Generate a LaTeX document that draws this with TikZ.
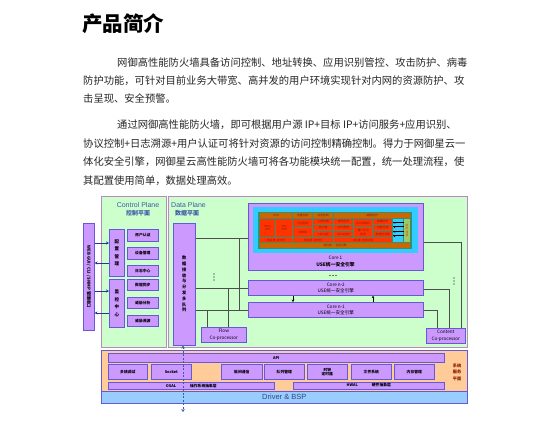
\documentclass[tikz,border=0pt]{standalone}
\usepackage{fontspec}
\setmainfont{Liberation Sans}
\newfontfamily\cjk{Noto Sans CJK SC}
\usetikzlibrary{arrows.meta}
\definecolor{lgreen}{HTML}{CCFFCC}
\definecolor{lav}{HTML}{CC99FF}
\definecolor{lavb}{HTML}{6659D9}
\definecolor{planeb}{HTML}{B98AC0}
\definecolor{cyanc}{HTML}{33CCFF}
\definecolor{orc}{HTML}{CC6600}
\definecolor{redc}{HTML}{FF3300}
\definecolor{tealc}{HTML}{3A8F6A}
\definecolor{gbox}{HTML}{99CC66}
\definecolor{peach}{HTML}{FFCC99}
\definecolor{bsp}{HTML}{99CCFF}
\definecolor{dblue}{HTML}{1F3A8F}
\definecolor{txt}{HTML}{262626}
\definecolor{plbl}{HTML}{3C5AA8}
\definecolor{dred}{HTML}{8B1A00}
\definecolor{lgray}{HTML}{4D4D4D}
\newcommand\bx[7]{%
  \pgfmathsetmacro\bxw{#4-#2}\pgfmathsetmacro\bxh{#5-#3}%
  \node[#6, minimum width=\bxw pt, minimum height=\bxh pt, inner sep=0pt, anchor=north west, align=center] (#1) at (#2,#3) {#7};}
\tikzset{
  plane/.style={draw=planeb, fill=lgreen, line width=0.8pt},
  pbox/.style={draw=lavb, fill=lav, line width=0.6pt},
  tiny/.style={font=\cjk\bfseries\fontsize{3.8}{4.4}\selectfont, text=black},
  sm/.style={font=\cjk\fontsize{4.6}{6.4}\selectfont, text=black},
  vt/.style={font=\cjk\bfseries\fontsize{4.5}{7.5}\selectfont, text=black},
  vtb/.style={font=\cjk\bfseries\fontsize{4.2}{5.8}\selectfont, text=black},
  cell/.style={draw=none, fill=#1, font=\cjk\fontsize{2.8}{3.4}\selectfont, text=dred},
  conn/.style={draw=lgray, line width=0.7pt},
  para/.style={anchor=west, font=\cjk\fontsize{10.3}{12}\selectfont, text=txt, inner sep=0pt},
  arr/.style={draw=dblue, line width=1pt, -{Stealth[length=3pt,width=3pt]}},
  sarr/.style={draw=black, line width=0.4pt, -{Stealth[length=1.5pt,width=1.5pt]}},
  dot/.style={circle, fill=black, inner sep=0pt, minimum size=1.3pt},
}
\begin{document}
\begin{tikzpicture}[x=1pt,y=-1pt]
\useasboundingbox[fill=white] (0,0) rectangle (554,421);
% ---------- text ----------
\node[anchor=west, inner sep=0pt, font=\cjk\bfseries\fontsize{20.5}{24}\selectfont, text=black] (title) at (82,24) {产品简介};
\node[para] (p1a) at (117,63) {网御高性能防火墙具备访问控制、地址转换、应用识别管控、攻击防护、病毒};
\node[para] (p1b) at (83,81) {防护功能，可针对目前业务大带宽、高并发的用户环境实现针对内网的资源防护、攻};
\node[para] (p1c) at (83,99) {击呈现、安全预警。};
\node[para] (p2a) at (117,125) {通过网御高性能防火墙，即可根据用户源 IP+目标 IP+访问服务+应用识别、};
\node[para] (p2b) at (83,143.5) {协议控制+日志溯源+用户认证可将针对资源的访问控制精确控制。得力于网御星云一};
\node[para] (p2c) at (83,162) {体化安全引擎，网御星云高性能防火墙可将各功能模块统一配置，统一处理流程，使};
\node[para] (p2d) at (83,180.5) {其配置使用简单，数据处理高效。};
% ---------- planes ----------
\bx{cp}{101}{196}{166}{347}{plane}{}
\bx{dp}{168}{196}{467}{347}{plane}{}
\node[font=\fontsize{7}{8}\selectfont, text=plbl, inner sep=0pt] (cpl) at (138,205) {Control Plane};
\node[font=\cjk\bfseries\fontsize{6}{7}\selectfont, text=plbl, inner sep=0pt] (cpl2) at (138,213.5) {控制平面};
\node[anchor=west, font=\fontsize{7}{8}\selectfont, text=plbl, inner sep=0pt] (dpl) at (171,205) {Data Plane};
\node[anchor=west, font=\cjk\bfseries\fontsize{6}{7}\selectfont, text=plbl, inner sep=0pt] (dpl2) at (175,213.5) {数据平面};
% ---------- control plane ----------
\bx{mgmt}{83}{223}{94}{330}{pbox, font=\cjk\bfseries\fontsize{4.2}{5}\selectfont}{\rotatebox{-90}{WEB GUI / CLI / SNMP 管理接口}}
\bx{cfg}{109}{229}{124}{276}{pbox,vt}{配\\置\\管\\理}
\bx{mon}{109}{279}{124}{327}{pbox,vt}{监\\控\\中\\心}
\bx{c1}{127}{229}{158}{241}{pbox,tiny}{用户认证}
\bx{c2}{127}{247}{158}{259}{pbox,tiny}{设备管理}
\bx{c3}{127}{265}{158}{276}{pbox,tiny}{日志中心}
\bx{c4}{127}{279}{158}{290}{pbox,tiny}{数据同步}
\bx{c5}{127}{297}{158}{308}{pbox,tiny}{威胁分析}
\bx{c6}{127}{315}{158}{326}{pbox,tiny}{威胁溯源}
\coordinate (ya) at (0,243);
\coordinate (yb) at (0,263);
\coordinate (yc) at (0,291);
\coordinate (yd) at (0,313);
\draw[arr] (mgmt.east |- ya) -- (cfg.west |- ya);
\draw[arr] (cfg.west |- yb) -- (mgmt.east |- yb);
\draw[arr] (mgmt.east |- yc) -- (mon.west |- yc);
\draw[arr] (mon.west |- yd) -- (mgmt.east |- yd);
% ---------- data plane ----------
\bx{dq}{173}{223}{195}{345}{pbox,vtb}{数\\据\\接\\收\\与\\分\\发\\多\\队\\列}
% core 1
\bx{core1}{248}{203}{423}{270}{pbox}{}
\bx{cy}{253}{207}{418}{253}{draw=none, fill=cyanc}{}
\bx{tl}{258}{212}{412}{249}{draw=none, fill=tealc}{}
\node[sm, inner sep=0pt] (c1t) at (335.5,257.5) {Core 1};
\node[sm, font=\cjk\bfseries\fontsize{4.8}{6}\selectfont, inner sep=0pt] (c1u) at (335.5,264.5) {USE统一安全引擎};
% header row
\bx{hvpn}{260}{213}{292}{217.5}{cell=orc}{VPN}
\bx{hfc}{293}{213}{312}{217.5}{cell=orc}{流量控制}
\bx{hac}{313}{213}{333}{217.5}{cell=orc}{应用控制}
\bx{htp}{334}{213}{410}{217.5}{cell=orc}{威胁防护}
% middle block
\bx{mips}{260}{218.5}{275}{236.5}{cell=redc}{IPSec\\VPN}
\bx{mssl}{276}{218.5}{292}{236.5}{cell=redc}{SSL\\VPN}
\bx{ma1}{293}{218.5}{312}{227}{cell=redc}{访问控制}
\bx{ma2}{293}{228}{312}{236.5}{cell=redc}{防病毒}
\bx{mb1}{313}{218.5}{333}{224}{cell=redc}{入侵防御}
\bx{mb2}{313}{225}{333}{230}{cell=redc}{防火墙}
\bx{mb3}{313}{231}{333}{236.5}{cell=redc}{URL过滤}
\bx{mc1}{334}{218.5}{353}{224}{cell=redc}{邮件防护}
\bx{mc2}{334}{225}{353}{230}{cell=redc}{Web防护}
\bx{mc3}{334}{231}{353}{236.5}{cell=redc}{DDoS防护}
\bx{md1}{354}{218.5}{372}{227}{cell=redc}{反垃圾邮件}
\bx{md2}{354}{228}{372}{236.5}{cell=redc}{僵尸木马\\检测}
\bx{me1}{373}{218.5}{392}{224}{cell=redc}{病毒防护}
\bx{me2}{373}{225}{392}{230}{cell=redc}{内容过滤}
\bx{me3}{373}{231}{392}{236.5}{cell=redc}{数据防泄漏}
\bx{cya}{393}{218.5}{403}{242}{draw=none, fill=cyanc}{}
\bx{gb}{403.5}{218.5}{410}{242}{draw=none, fill=gbox, font=\cjk\fontsize{2.8}{3.6}\selectfont, text=redc}{威\\胁\\情\\报}
\foreach \yy [count=\i] in {222,226.5,231,235.5}{
  \coordinate (ga\i) at (0,\yy);
  \draw[sarr] (gb.west |- ga\i) -- (cya.west |- ga\i) ++(1.5,0);
}
% row 3
\bx{r3a}{260}{237.5}{292}{242}{cell=redc}{特征库 \ 流分析}
\bx{r3b}{293}{237.5}{333}{242}{cell=redc}{规则库 \ 流分析}
\bx{r3c}{334}{237.5}{392}{242}{cell=redc}{URL库 \ 应用识别}
% row 4
\bx{r4}{260}{243}{410}{248}{cell=orc}{特征库 $\cdot$ 识别引擎}
% core n-2, n-1
\bx{cn2}{248}{280}{423}{295}{pbox,sm}{Core n-2\\USE统一安全引擎}
\bx{cn1}{248}{302}{423}{317}{pbox,sm}{Core n-1\\USE统一安全引擎}
% coprocessors
\bx{flow}{201}{327}{246}{342}{pbox,sm}{Flow\\Co-processor}
\bx{cont}{426}{328}{465}{343}{pbox,sm}{Content\\Co-processor}
% left connectors
\coordinate (h1) at (0,238);
\coordinate (h2) at (0,288);
\coordinate (h3) at (0,310);
\coordinate (v1) at (239,0);
\coordinate (v2) at (228,0);
\coordinate (v3) at (207,0);
\draw[conn] (dq.east |- h1) -- (core1.west |- h1);
\draw[conn] (dq.east |- h2) -- (cn2.west |- h2);
\draw[conn] (dq.east |- h3) -- (cn1.west |- h3);
\draw[conn] (v1 |- h1) -- (v1 |- h3);
\draw[conn] (v2 |- h2) -- (flow.north -| v2);
\draw[conn] (v3 |- h3) -- (flow.north -| v3);
% right connectors
\coordinate (r1) at (461,242);
\coordinate (r2) at (449,289);
\coordinate (r3) at (437,310);
\draw[conn] (core1.east |- r1) -- (r1) -- (cont.north -| r1);
\draw[conn] (cn2.east |- r2) -- (r2) -- (cont.north -| r2);
\draw[conn] (cn1.east |- r3) -- (r3) -- (cont.north -| r3);
% between cores
\coordinate (a1) at (293,0);
\coordinate (a2) at (373,0);
\draw[conn, draw=black, -{Stealth[length=2.5pt,width=2.5pt]}] (cn2.south -| a1) -- (cn1.north -| a1);
\draw[conn, draw=black, -{Stealth[length=2.5pt,width=2.5pt]}] (cn1.north -| a2) -- (cn2.south -| a2);
% dots
\foreach \k in {-3,0,3}{
  \node[dot] at (214,277+\k) {};
  \node[dot] at (333+\k,275.5) {};
  \node[dot] at (454,281+\k) {};
}
% ---------- system service plane ----------
\bx{svc}{101}{350}{467}{391}{draw=lavb, fill=peach, line width=0.6pt}{}
\bx{drv}{101}{391}{467}{403}{draw=lavb, fill=bsp, line width=0.6pt, font=\fontsize{7.5}{8}\selectfont, text=plbl!80!black}{Driver \& BSP}
\bx{api}{108}{353}{444}{362}{pbox,tiny}{API}
\bx{s1}{108}{364}{147}{379}{pbox,tiny}{多核调试}
\bx{s2}{151}{364}{191}{379}{pbox,tiny}{Socket}
\bx{s3}{221}{364}{262}{379}{pbox,tiny}{板间通信}
\bx{s4}{264}{364}{304}{379}{pbox,tiny}{队列管理}
\bx{s5}{307}{364}{347}{379}{pbox,tiny}{时钟\\定时器}
\bx{s6}{351}{364}{391}{379}{pbox,tiny}{文件系统}
\bx{s7}{394}{364}{434}{379}{pbox,tiny}{内存管理}
\bx{osal}{108}{382}{274}{388.5}{pbox,tiny}{OSAL\hspace{14pt}操作系统抽象层}
\bx{hwal}{293}{382}{444}{388.5}{pbox,tiny}{HWAL\hspace{14pt}硬件抽象层}
\node[font=\cjk\bfseries\fontsize{4.2}{6.5}\selectfont, text=dred, align=center, inner sep=0pt] (svl) at (457,372) {系统\\服务\\平面};
% dashed arrow
\coordinate (dt) at (183,412);
\draw[draw=plbl, line width=1pt, dashed, dash pattern=on 2pt off 1.5pt, {Stealth[length=3pt,width=3.5pt]}-{Stealth[length=3pt,width=3.5pt]}] (dq.south -| dt) -- (dt);
\end{tikzpicture}
\end{document}
